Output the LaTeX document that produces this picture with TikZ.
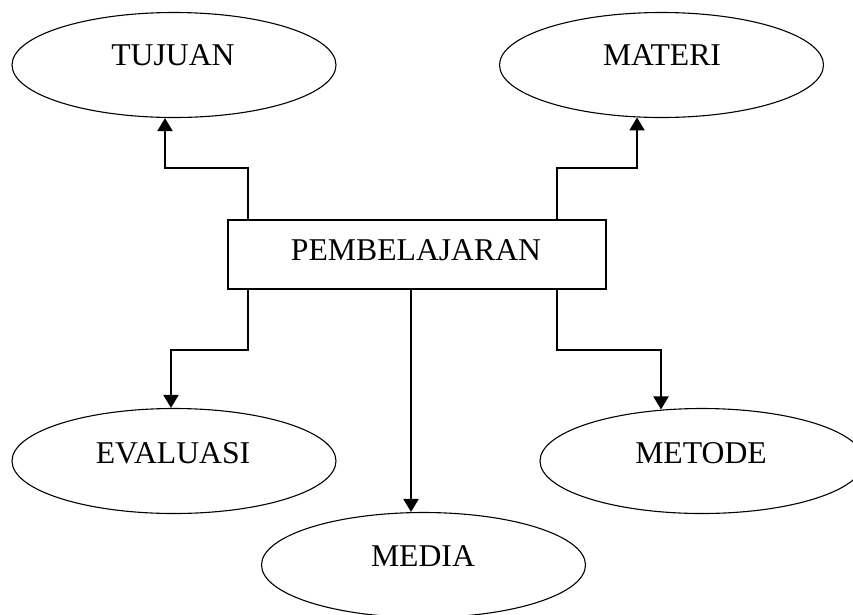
\documentclass[tikz,border=0pt]{standalone}
\usepackage{fontspec}
\setmainfont{Liberation Serif}
\usetikzlibrary{shapes.geometric,arrows.meta}
\tikzset{
  oval/.style={draw, ellipse, line width=1.1pt, inner sep=0pt, minimum width=324pt, minimum height=105pt},
  mainbox/.style={draw, rectangle, line width=1.3pt, inner sep=0pt, minimum width=378pt, minimum height=69pt},
  lbl/.style={anchor=base, inner sep=0pt, font=\fontsize{31.7}{38}\selectfont},
  conn/.style={line width=2pt, -{Triangle[width=15pt,length=13pt]}}
}
\begin{document}
\begin{tikzpicture}[x=1pt, y=-1pt]
\useasboundingbox (0,0) rectangle (853,614);
\node[oval] (tu) at (174,65) {};
\node[oval] (ma) at (661.5,65) {};
\node[oval] (ev) at (174,461) {};
\node[oval] (me) at (702,461) {};
\node[oval] (md) at (423.5,565) {};
\node[mainbox] (pb) at (417,254.5) {};
\node[lbl] (tut) at (173,65) {TUJUAN};
\node[lbl] (mat) at (662,65) {MATERI};
\node[lbl] (evt) at (173,463) {EVALUASI};
\node[lbl] (met) at (701,463) {METODE};
\node[lbl] (mdt) at (423,566) {MEDIA};
\node[lbl] (pbt) at (416,260) {PEMBELAJARAN};
\draw[conn] ([xshift=21pt]pb.north west) -- ++(0,-51) -| ([xshift=-9pt]tu.south);
\draw[conn] ([xshift=-50pt]pb.north east) -- ++(0,-51) -| ([xshift=-24.5pt,yshift=0.6pt]ma.south);
\draw[conn] ([xshift=21pt]pb.south west) -- ++(0,60) -| ([xshift=-3pt]ev.north);
\draw[conn] ([xshift=-50pt]pb.south east) -- ++(0,60) -| ([xshift=-41pt,yshift=-1.5pt]me.north);
\draw[conn] ([xshift=-6pt]pb.south) -- ([xshift=-6pt]pb.south |- md.north);
\end{tikzpicture}
\end{document}
